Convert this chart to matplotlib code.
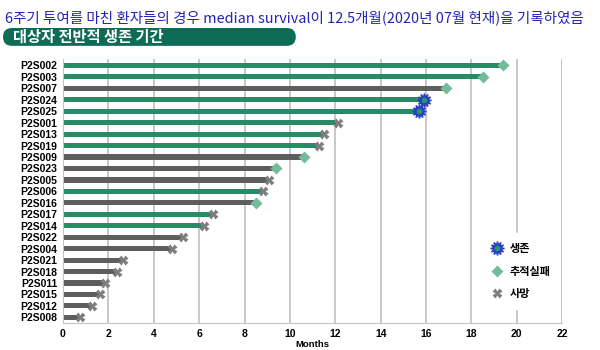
import matplotlib
matplotlib.use("Agg")
import matplotlib.pyplot as plt
from matplotlib.patches import FancyBboxPatch
from matplotlib.lines import Line2D

patients = ["P2S002", "P2S003", "P2S007", "P2S024", "P2S025", "P2S001", "P2S013",
            "P2S019", "P2S009", "P2S023", "P2S005", "P2S006", "P2S016", "P2S017",
            "P2S014", "P2S022", "P2S004", "P2S021", "P2S018", "P2S011", "P2S015",
            "P2S012", "P2S008"]
months = [19.4, 18.5, 16.9, 15.9, 15.7, 12.1, 11.5, 11.3, 10.6, 9.4, 9.1, 8.8, 8.5,
          6.6, 6.2, 5.3, 4.8, 2.65, 2.4, 1.85, 1.65, 1.3, 0.75]
# bar group: 1 = green, 0 = gray
group = [1, 1, 0, 1, 1, 1, 1, 1, 0, 0, 0, 1, 0, 1, 1, 0, 0, 0, 0, 0, 0, 0, 0]
# status: S = 생존, F = 추적실패, D = 사망
status = ["F", "F", "F", "S", "S", "D", "D", "D", "F", "F", "D", "D", "F", "D",
          "D", "D", "D", "D", "D", "D", "D", "D", "D"]
xticks = [0, 2, 4, 6, 8, 10, 12, 14, 16, 18, 20, 22]
legend_labels = ["생존", "추적실패", "사망"]

title_text = "6주기 투여를 마친 환자들의 경우 median survival이 12.5개월(2020년 07월 현재)을 기록하였음"
banner_text = "대상자 전반적 생존 기간"

GREEN = "#2b8a66"
GRAY = "#5e5e5e"
DIAMOND = "#74bb9b"
XGRAY = "#7d7d7d"
STAR_EDGE = "#2a3fc0"
STAR_FILL = "#1f9a70"

plt.rcParams["font.family"] = ["Liberation Sans", "Noto Sans CJK KR", "DejaVu Sans"]

fig = plt.figure(figsize=(6, 3.5), dpi=100)
ax = fig.add_axes([0.105, 0.077, 0.832, 0.754])

ypos = list(range(len(patients)))
colors = [GREEN if g else GRAY for g in group]
ax.barh(ypos, months, height=0.45, color=colors, zorder=2)

for y, v, s in zip(ypos, months, status):
    if s == "F":
        ax.plot(v, y, marker="D", ms=6, color=DIAMOND, mec="none", zorder=3)
    elif s == "D":
        ax.plot(v, y, marker="X", ms=6.5, color=XGRAY, mec="none", zorder=3)
    else:
        ax.plot(v, y, marker=(12, 1, 0), ms=10, color=STAR_EDGE, mec=STAR_EDGE, zorder=3)
        ax.plot(v, y, marker="o", ms=4, color=STAR_FILL, mec="none", zorder=4)

ax.set_ylim(len(patients) - 0.5, -0.55)
ax.set_xlim(0, 22)
ax.set_xticks(xticks)
ax.set_yticks(ypos)
ax.set_yticklabels(patients, fontweight="bold", fontsize=7.5, family=["Liberation Sans"])
ax.set_xticklabels([str(t) for t in xticks], fontweight="bold", fontsize=7.5,
                   family=["Liberation Sans"])
ax.tick_params(axis="both", length=0, pad=4)
ax.grid(axis="x", color="#c4c4c4", lw=1.3, zorder=0)
for sp in ["top", "right"]:
    ax.spines[sp].set_visible(False)
ax.spines["left"].set_color("#c4c4c4")
ax.spines["bottom"].set_color("#c4c4c4")
ax.set_xlabel("Months", fontweight="bold", fontsize=6.8, labelpad=1,
              family=["Liberation Sans"])

h_star = (Line2D([], [], marker=(12, 1, 0), ms=10, color=STAR_EDGE, ls="none"),
          Line2D([], [], marker="o", ms=4, color=STAR_FILL, mec="none", ls="none"))
h_dia = Line2D([], [], marker="D", ms=6, color=DIAMOND, mec="none", ls="none")
h_x = Line2D([], [], marker="X", ms=6.5, color=XGRAY, mec="none", ls="none")
leg = ax.legend([h_star, h_dia, h_x], legend_labels, loc="lower left",
                bbox_to_anchor=(0.825, 0.032), frameon=True, framealpha=1,
                edgecolor="white", facecolor="white", fontsize=8,
                labelspacing=0.85, handletextpad=0.4, handlelength=1.4,
                borderpad=0.8)
for t in leg.get_texts():
    t.set_fontweight("bold")
    t.set_family(["Noto Sans CJK KR"])

fig.text(0.008, 0.948, title_text, color="#2323b4", fontsize=10.45,
         family=["Noto Sans CJK KR"], va="center", ha="left")

# banner in a pixel-unit overlay axes
bax = fig.add_axes([0.005, 0.869, 0.488, 0.051])
bax.set_xlim(0, 293)
bax.set_ylim(0, 18)
bax.axis("off")
bax.add_patch(FancyBboxPatch((0, 0), 293, 18,
                             boxstyle="round,pad=0,rounding_size=9",
                             facecolor="#0d6b56", edgecolor="none"))
bax.text(10, 9, banner_text, color="white", fontsize=11, fontweight="bold",
         family=["Noto Sans CJK KR"], va="center", ha="left")

fig.savefig("out.png", dpi=100)
